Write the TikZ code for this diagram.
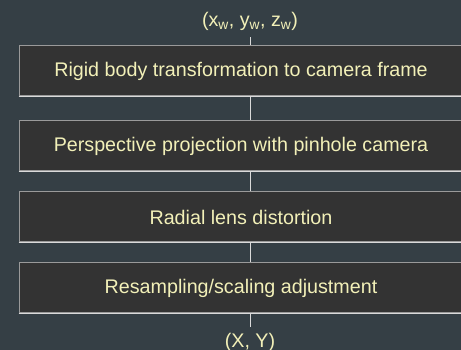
\documentclass[tikz,border=0pt]{standalone}
\usepackage{fontspec}
\setmainfont{Liberation Sans}
\usetikzlibrary{positioning}

\definecolor{bgslate}{HTML}{353F45}
\definecolor{stagefill}{HTML}{333333}
\definecolor{labelcream}{HTML}{F2F0B8}
\definecolor{edgegray}{HTML}{9A9A9A}
\definecolor{edgelight}{HTML}{DADADA}

\begin{document}
\begin{tikzpicture}[
    x=1pt, y=1pt,
    node distance=20pt,
    stage/.style={rectangle, draw=edgegray, line width=1pt, fill=stagefill, minimum height=50pt, minimum width=444pt, inner sep=0pt, text=labelcream, font=\fontsize{19.7}{22}\selectfont},
    endpoint/.style={inner sep=7pt, text=labelcream, font=\fontsize{19.7}{22}\selectfont},
    link/.style={draw=edgelight, line width=1pt}
]
    % Background and picture frame
    \fill[bgslate] (0,0) rectangle (461,350);
    \useasboundingbox (0,0) rectangle (461,350);
    % Pipeline stages
    \node[stage] (rigid) at (241,279) {Rigid body transformation to camera frame};
    \node[stage, below=24pt of rigid] (persp) {Perspective projection with pinhole camera};
    \node[stage, below=of persp] (radial) {Radial lens distortion};
    \node[stage, below=of radial] (resample) {Resampling/scaling adjustment};
    % Lighter lower edges
    \foreach \s in {rigid, persp, radial, resample}
        \draw[edgelight, line width=1pt] (\s.south west) -- (\s.south east);
    % Input and output coordinates
    \node[endpoint] (world) at (250,329) {(x\textsubscript{w}, y\textsubscript{w}, z\textsubscript{w})};
    \node[endpoint, inner sep=6pt, below=14pt of resample.south -| world, anchor=north] (image) {(X, Y)};
    % Connectors
    \draw[link] (world) -- (rigid.north -| world);
    \draw[link] (rigid.south -| world) -- (persp.north -| world);
    \draw[link] (persp.south -| world) -- (radial.north -| world);
    \draw[link] (radial.south -| world) -- (resample.north -| world);
    \draw[link] (resample.south -| world) -- (image);
\end{tikzpicture}
\end{document}
